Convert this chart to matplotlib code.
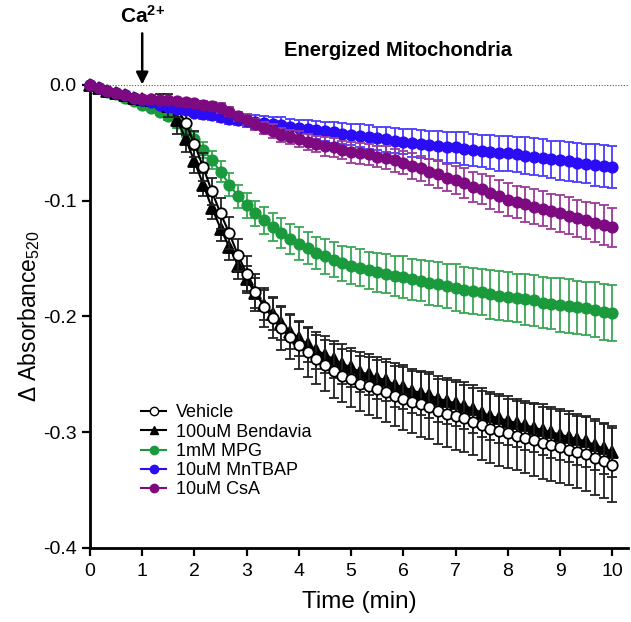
import matplotlib
matplotlib.use("Agg")
import matplotlib.pyplot as plt
from matplotlib.lines import Line2D
import numpy as np

plt.rcParams['font.family'] = ['Liberation Sans', 'DejaVu Sans']
plt.rcParams['mathtext.fontset'] = 'custom'
plt.rcParams['mathtext.rm'] = 'Liberation Sans'
plt.rcParams['mathtext.bf'] = 'Liberation Sans:bold'

# time points every 10 s, 0..10 min
time_min = np.arange(61) / 6.0

vehicle = [0, -0.003, -0.005, -0.007, -0.009, -0.011, -0.013, -0.014, -0.015, -0.016,
           -0.020, -0.033, -0.051, -0.071, -0.092, -0.111, -0.128, -0.147, -0.163, -0.179,
           -0.192, -0.201, -0.210, -0.218, -0.225, -0.231, -0.237, -0.242, -0.247, -0.251,
           -0.254, -0.258, -0.260, -0.263, -0.265, -0.269, -0.271, -0.274, -0.276, -0.278,
           -0.282, -0.284, -0.286, -0.288, -0.291, -0.294, -0.297, -0.299, -0.301, -0.303,
           -0.305, -0.307, -0.309, -0.311, -0.313, -0.315, -0.317, -0.319, -0.322, -0.325,
           -0.328]
vehicle_sem = [0.001, 0.002, 0.002, 0.002, 0.002, 0.002, 0.002, 0.002, 0.003, 0.004,
               0.008, 0.010, 0.011, 0.012, 0.012, 0.013, 0.014, 0.014, 0.015, 0.016,
               0.017, 0.018, 0.019, 0.019, 0.020, 0.021, 0.021, 0.022, 0.023, 0.023,
               0.024, 0.024, 0.025, 0.025, 0.026, 0.026, 0.027, 0.027, 0.028, 0.028,
               0.028, 0.029, 0.029, 0.029, 0.029, 0.030, 0.030, 0.030, 0.030, 0.030,
               0.030, 0.031, 0.031, 0.031, 0.031, 0.031, 0.031, 0.032, 0.032, 0.032,
               0.032]

bendavia = [0, -0.003, -0.005, -0.007, -0.009, -0.011, -0.012, -0.013, -0.014, -0.018,
            -0.030, -0.047, -0.066, -0.086, -0.106, -0.124, -0.140, -0.156, -0.168, -0.180,
            -0.190, -0.198, -0.206, -0.213, -0.219, -0.224, -0.229, -0.233, -0.237, -0.241,
            -0.244, -0.248, -0.250, -0.253, -0.255, -0.259, -0.261, -0.264, -0.266, -0.268,
            -0.271, -0.273, -0.275, -0.277, -0.280, -0.283, -0.286, -0.288, -0.290, -0.292,
            -0.294, -0.296, -0.298, -0.300, -0.302, -0.304, -0.306, -0.308, -0.311, -0.314,
            -0.317]
bendavia_sem = [0.001, 0.002, 0.002, 0.002, 0.002, 0.002, 0.002, 0.003, 0.006, 0.010,
                0.012, 0.011, 0.010, 0.010, 0.010, 0.011, 0.011, 0.012, 0.012, 0.013,
                0.013, 0.014, 0.014, 0.015, 0.015, 0.015, 0.016, 0.016, 0.016, 0.017,
                0.017, 0.017, 0.018, 0.018, 0.018, 0.019, 0.019, 0.019, 0.019, 0.020,
                0.020, 0.020, 0.020, 0.020, 0.021, 0.021, 0.021, 0.021, 0.021, 0.021,
                0.021, 0.021, 0.022, 0.022, 0.022, 0.022, 0.022, 0.022, 0.022, 0.022,
                0.022]

mpg = [0, -0.003, -0.006, -0.008, -0.011, -0.014, -0.017, -0.020, -0.023, -0.027,
       -0.033, -0.040, -0.047, -0.056, -0.065, -0.075, -0.086, -0.096, -0.104, -0.111,
       -0.117, -0.123, -0.128, -0.133, -0.137, -0.141, -0.145, -0.148, -0.151, -0.154,
       -0.156, -0.158, -0.160, -0.162, -0.163, -0.165, -0.166, -0.168, -0.169, -0.171,
       -0.172, -0.174, -0.175, -0.177, -0.178, -0.179, -0.181, -0.182, -0.183, -0.184,
       -0.185, -0.186, -0.188, -0.189, -0.190, -0.191, -0.192, -0.193, -0.194, -0.196,
       -0.197]
mpg_sem = [0.001, 0.001, 0.001, 0.002, 0.002, 0.002, 0.002, 0.002, 0.003, 0.003,
           0.004, 0.005, 0.006, 0.007, 0.008, 0.009, 0.010, 0.010, 0.011, 0.011,
           0.012, 0.012, 0.013, 0.013, 0.014, 0.014, 0.014, 0.015, 0.015, 0.015,
           0.016, 0.016, 0.016, 0.017, 0.017, 0.017, 0.018, 0.018, 0.018, 0.019,
           0.019, 0.019, 0.020, 0.020, 0.020, 0.020, 0.021, 0.021, 0.021, 0.021,
           0.022, 0.022, 0.022, 0.022, 0.023, 0.023, 0.023, 0.023, 0.024, 0.024,
           0.024]

mntbap = [0, -0.003, -0.005, -0.007, -0.009, -0.011, -0.013, -0.015, -0.017, -0.019,
          -0.021, -0.022, -0.024, -0.025, -0.026, -0.028, -0.029, -0.030, -0.031, -0.032,
          -0.033, -0.034, -0.035, -0.036, -0.037, -0.038, -0.039, -0.040, -0.041, -0.042,
          -0.043, -0.044, -0.045, -0.046, -0.047, -0.048, -0.049, -0.050, -0.051, -0.052,
          -0.053, -0.054, -0.054, -0.055, -0.056, -0.057, -0.058, -0.059, -0.059, -0.060,
          -0.061, -0.062, -0.063, -0.064, -0.065, -0.066, -0.067, -0.068, -0.069, -0.070,
          -0.071]
mntbap_sem = [0.001, 0.001, 0.001, 0.001, 0.002, 0.002, 0.002, 0.002, 0.002, 0.002,
              0.003, 0.003, 0.003, 0.004, 0.004, 0.004, 0.005, 0.005, 0.005, 0.006,
              0.006, 0.006, 0.007, 0.007, 0.007, 0.008, 0.008, 0.008, 0.009, 0.009,
              0.009, 0.010, 0.010, 0.010, 0.011, 0.011, 0.011, 0.012, 0.012, 0.012,
              0.013, 0.013, 0.013, 0.014, 0.014, 0.014, 0.015, 0.015, 0.015, 0.015,
              0.016, 0.016, 0.016, 0.016, 0.017, 0.017, 0.017, 0.017, 0.018, 0.018,
              0.018]

csa = [0, -0.003, -0.005, -0.007, -0.009, -0.011, -0.012, -0.012, -0.013, -0.013,
       -0.014, -0.015, -0.016, -0.017, -0.018, -0.020, -0.023, -0.027, -0.030, -0.034,
       -0.037, -0.040, -0.043, -0.045, -0.047, -0.049, -0.051, -0.053, -0.054, -0.056,
       -0.058, -0.059, -0.060, -0.062, -0.063, -0.065, -0.067, -0.070, -0.072, -0.075,
       -0.077, -0.080, -0.082, -0.085, -0.088, -0.090, -0.093, -0.096, -0.099, -0.101,
       -0.103, -0.105, -0.107, -0.109, -0.111, -0.113, -0.115, -0.117, -0.119, -0.121,
       -0.123]
csa_sem = [0.001, 0.001, 0.001, 0.001, 0.002, 0.002, 0.002, 0.002, 0.002, 0.002,
           0.002, 0.003, 0.003, 0.003, 0.003, 0.004, 0.004, 0.004, 0.005, 0.005,
           0.005, 0.006, 0.006, 0.006, 0.007, 0.007, 0.007, 0.008, 0.008, 0.008,
           0.009, 0.009, 0.009, 0.009, 0.010, 0.010, 0.010, 0.011, 0.011, 0.011,
           0.012, 0.012, 0.012, 0.013, 0.013, 0.013, 0.014, 0.014, 0.014, 0.014,
           0.015, 0.015, 0.015, 0.015, 0.016, 0.016, 0.016, 0.016, 0.017, 0.017,
           0.017]

labels = ['Vehicle', '100uM Bendavia', '1mM MPG', '10uM MnTBAP', '10uM CsA']
x_ticks = [0, 1, 2, 3, 4, 5, 6, 7, 8, 9, 10]
y_ticks = [0.0, -0.1, -0.2, -0.3, -0.4]
y_tick_labels = ['0.0', '-0.1', '-0.2', '-0.3', '-0.4']

green = '#1a9a3c'
blue = '#2a0cf5'
purple = '#7d0a80'

fig = plt.figure(figsize=(6.31, 6.22), dpi=100)
ax = fig.add_axes([0.1426, 0.119, 0.8526, 0.7444])

ax.axhline(0, color='#555555', linestyle=(0, (1, 1.5)), linewidth=0.8, zorder=1)

# drawing order bottom -> top: (data, sem, marker, face, edge, bar colour, size)
series = [
    (mpg, mpg_sem, 'o', green, green, '#3aa655', 7.5),
    (bendavia, bendavia_sem, '^', 'black', 'black', '#222222', 8),
    (vehicle, vehicle_sem, 'o', 'white', 'black', '#222222', 7.5),
    (mntbap, mntbap_sem, 'o', blue, blue, '#4a3cff', 7.5),
    (csa, csa_sem, 'o', purple, purple, '#9a3a9a', 7.5),
]
z = 3
for vals, sem, mk, fc, ec, bc, ms in series:
    ax.errorbar(time_min, vals, yerr=sem, fmt='none', ecolor=bc, elinewidth=1.3,
                capsize=3.5, capthick=1.3, zorder=z, clip_on=False)
    ax.plot(time_min, vals, color=ec, linewidth=1.5, marker=mk, markersize=ms,
            markerfacecolor=fc, markeredgecolor=ec, markeredgewidth=1.3,
            zorder=z + 1, clip_on=False)
    z += 2

ax.set_xlim(0, 10.3)
ax.set_ylim(-0.4, 0.0)
ax.set_xticks(x_ticks)
ax.set_yticks(y_ticks)
ax.set_yticklabels(y_tick_labels)
ax.tick_params(axis='both', labelsize=14, width=1.6, length=6, direction='out')
ax.tick_params(axis='x', pad=5)
ax.spines['top'].set_visible(False)
ax.spines['right'].set_visible(False)
ax.spines['left'].set_linewidth(2)
ax.spines['bottom'].set_linewidth(2)

ax.set_xlabel('Time (min)', fontsize=17.5, labelpad=8)
ax.set_ylabel(r'$\Delta$ Absorbance$_{520}$', fontsize=16.5, labelpad=1)

ax.text(5.9, 0.030, 'Energized Mitochondria', fontsize=14.5, fontweight='bold',
        ha='center', va='center')
ax.annotate('', xy=(1.0, -0.002), xytext=(1.0, 0.047), annotation_clip=False,
            arrowprops=dict(arrowstyle='-|>', color='black', lw=1.8, mutation_scale=18))
ax.text(1.0, 0.050, r'$\mathbf{Ca^{2{+}}}$', fontsize=15,
        ha='center', va='bottom')

handles = [
    Line2D([], [], color='black', lw=1.5, marker='o', ms=6, mfc='white', mec='black'),
    Line2D([], [], color='black', lw=1.5, marker='^', ms=6, mfc='black', mec='black'),
    Line2D([], [], color=green, lw=1.5, marker='o', ms=6),
    Line2D([], [], color=blue, lw=1.5, marker='o', ms=6),
    Line2D([], [], color=purple, lw=1.5, marker='o', ms=6),
]
ax.legend(handles, labels, loc='upper left', bbox_to_anchor=(0.065, 0.345), frameon=False,
          fontsize=13, handlelength=1.4, handletextpad=0.5, labelspacing=0.12)

plt.savefig('out.png', dpi=100)
